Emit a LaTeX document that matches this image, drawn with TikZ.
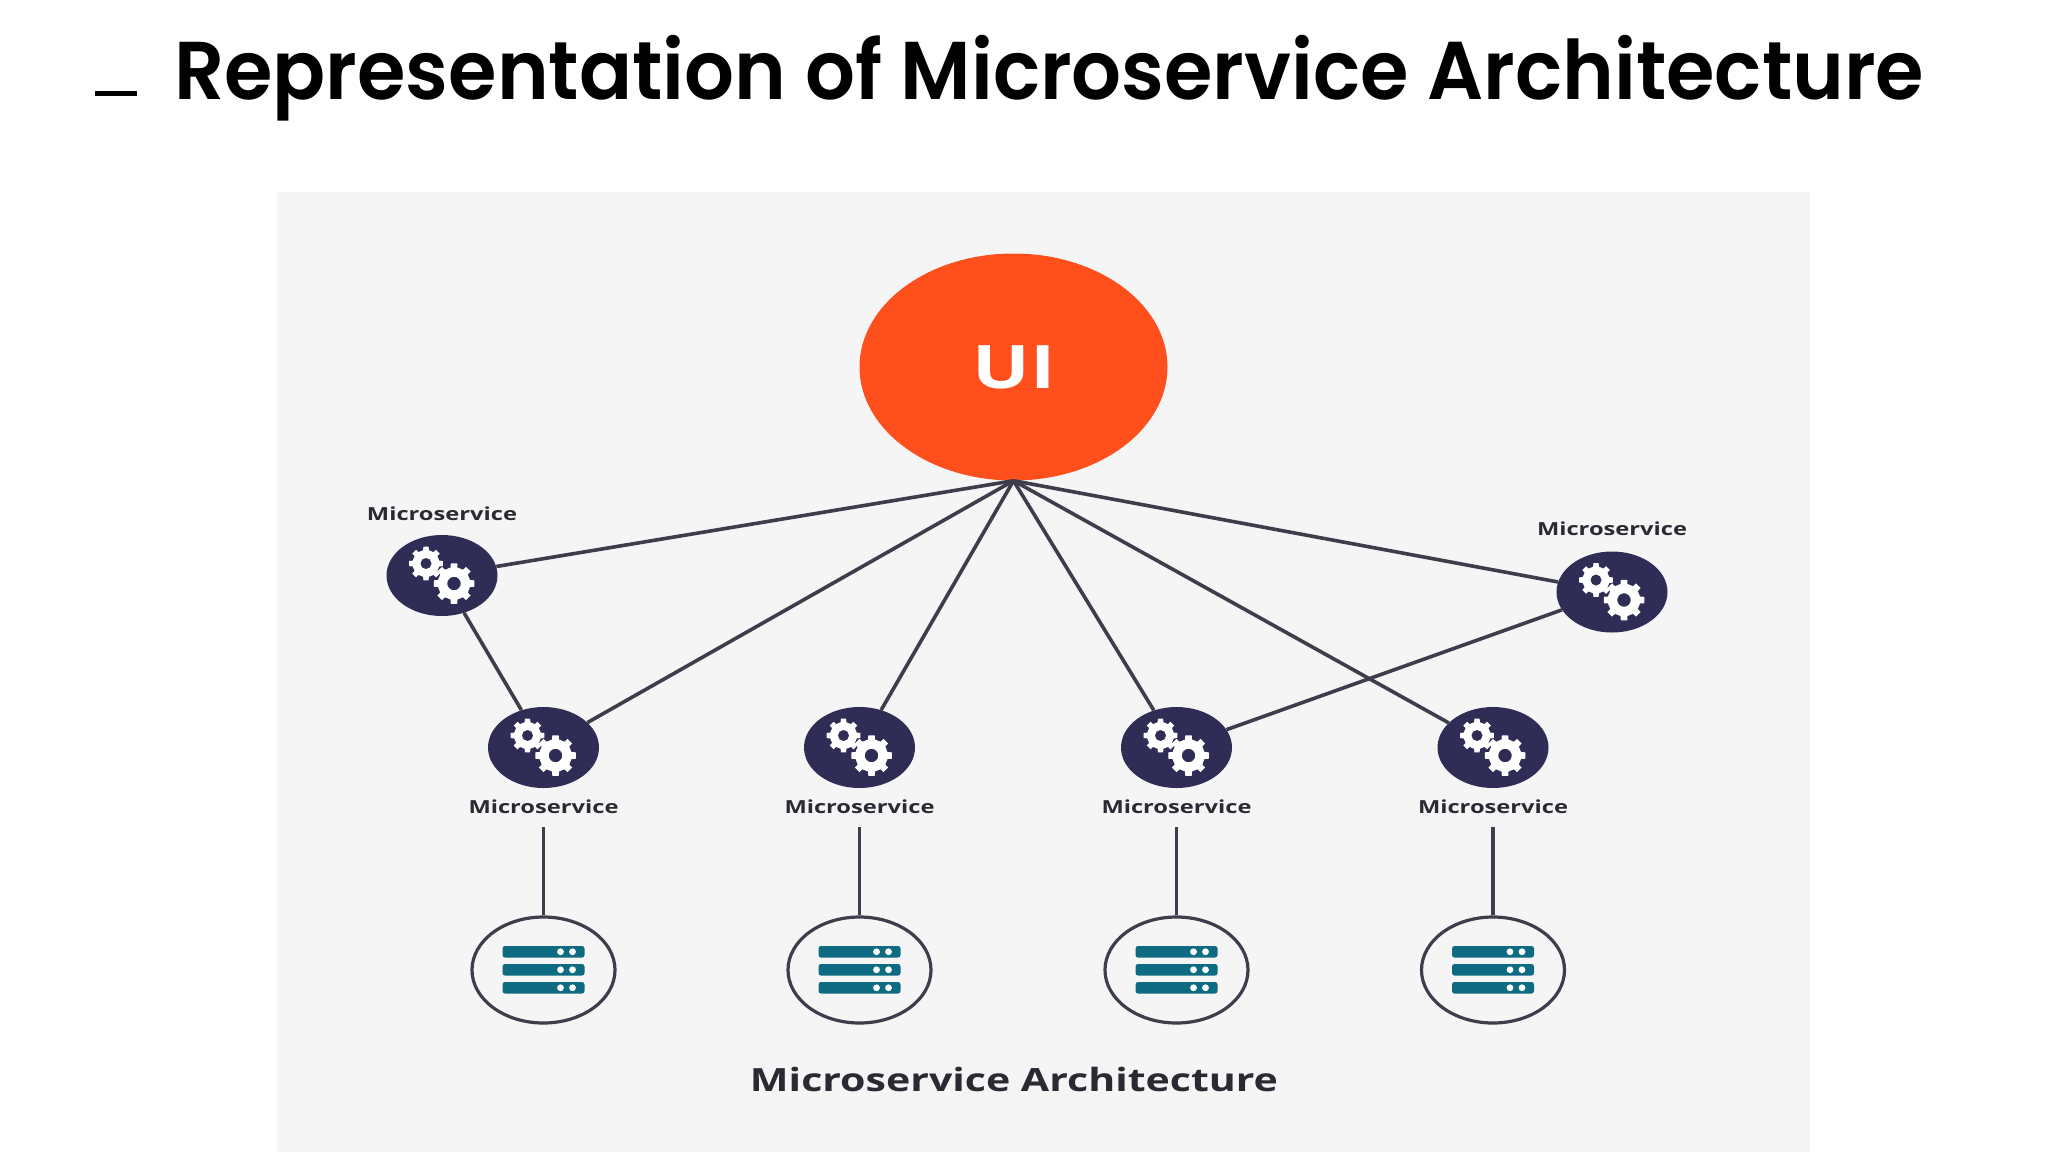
\documentclass[tikz,border=0pt]{standalone}
\usepackage{fontspec}
\usepackage{graphicx}
\usetikzlibrary{shapes.geometric}
\setmainfont{Open Sans}
\newfontfamily\titlefont{Poppins}[BoldFont=Poppins SemiBold]
\newfontfamily\labfont{Open Sans}
\definecolor{panel}{HTML}{F5F5F6}
\definecolor{uiorange}{HTML}{FF4F1C}
\definecolor{navy}{HTML}{2F2D55}
\definecolor{teal2}{HTML}{0F6B82}
\definecolor{wire}{HTML}{3E3D4B}
\definecolor{labink}{HTML}{2A2A33}
\newcommand{\fitw}[2]{\resizebox{#1}{\height}{#2}}
\newcommand{\mslabel}{\fontsize{18}{20}\selectfont\labfont\bfseries\fitw{150pt}{Microservice}}
\tikzset{
  x=1pt,y=-1pt,
  wireline/.style={draw=wire,line width=3.6pt},
  svc/.style={ellipse,fill=navy,minimum width=111pt,minimum height=81pt,inner sep=0pt},
  store/.style={ellipse,draw=wire,line width=3.2pt,fill=panel,minimum width=143pt,minimum height=106pt,inner sep=0pt},
  mslab/.style={text=labink,inner sep=0pt},
  gearshape/.pic={
    \def\R{#1}
    \fill[white,even odd rule]
      (-12:\R*0.8)
      \foreach \a in {0,45,...,315}{
        -- ({\a-12}:\R*0.8) -- ({\a-9}:\R) -- ({\a+9}:\R) -- ({\a+12}:\R*0.8)
      } -- cycle
      (0,0) circle[radius=\R*0.33];
  },
  gearpair/.pic={
    \pic at (-16,-12) {gearshape=17};
    \pic at (12,8) {gearshape=20.5};
  },
  serverrack/.pic={
    \foreach \t in {-24,-6,12}{
      \fill[teal2,rounded corners=2.5pt] (-41,\t) rectangle (41,\t+11.5);
      \fill[white] (17,\t+5.75) circle[radius=3.4];
      \fill[white] (29,\t+5.75) circle[radius=3.4];
    }
  }
}
\begin{document}
\begin{tikzpicture}
\useasboundingbox (0,0) rectangle (2048,1152);
\fill[white] (0,0) rectangle (2048,1152);
\fill[panel] (277,192) rectangle (1810,1152);
% title
\fill[black] (95,91) rectangle (137,96);
\node[anchor=base west,inner sep=0pt] (title) at (174,99)
  {\fontsize{82}{90}\selectfont\titlefont\bfseries\fitw{1750pt}{Representation of Microservice Architecture}};
% UI
\node[ellipse,fill=uiorange,minimum width=308pt,minimum height=227pt,inner sep=0pt] (ui) at (1013.5,367) {};
\node[text=white,inner sep=0pt] (uitext) at (1014,367) {\fontsize{60}{60}\selectfont\labfont\bfseries\fitw{83pt}{UI}};
% services
\node[svc] (a) at (442,575.5) {};
\node[svc] (b) at (543.5,747.5) {};
\node[svc] (c) at (859.5,747.5) {};
\node[svc] (d) at (1176.5,747.5) {};
\node[svc] (e) at (1493,747.5) {};
\node[svc] (f) at (1612,592) {};
\foreach \n in {a,b,c,d,e,f}{ \pic at (\n.center) {gearpair}; }
% labels
\node[mslab] (la) at (442,513.5) {\mslabel};
\node[mslab] (lb) at (543.5,807) {\mslabel};
\node[mslab] (lc) at (859.5,807) {\mslabel};
\node[mslab] (ld) at (1176.5,807) {\mslabel};
\node[mslab] (le) at (1493,807) {\mslabel};
\node[mslab] (lf) at (1612,529) {\mslabel};
% connectors
\draw[wireline] (ui.south) -- (a);
\draw[wireline] (ui.south) -- (b);
\draw[wireline] (ui.south) -- (c);
\draw[wireline] (ui.south) -- (d);
\draw[wireline] (ui.south) -- (e);
\draw[wireline] (ui.south) -- (f);
\draw[wireline] (a) -- (b);
\draw[wireline] (f) -- (d);
% stores
\node[store] (sb) at (543.5,970) {};
\node[store] (sc) at (859.5,970) {};
\node[store] (sd) at (1176.5,970) {};
\node[store] (se) at (1493,970) {};
\foreach \n in {b,c,d,e}{ \pic at (s\n.center) {serverrack}; }
\coordinate (tb) at (543.5,827);
\coordinate (tc) at (859.5,827);
\coordinate (td) at (1176.5,827);
\coordinate (te) at (1493,827);
\draw[wireline] (tb) -- (sb);
\draw[wireline] (tc) -- (sc);
\draw[wireline] (td) -- (sd);
\draw[wireline] (te) -- (se);
% caption
\node[text=labink,inner sep=0pt] (cap) at (1014,1079) {\fontsize{32}{36}\selectfont\labfont\bfseries\fitw{528pt}{Microservice Architecture}};
\end{tikzpicture}
\end{document}
